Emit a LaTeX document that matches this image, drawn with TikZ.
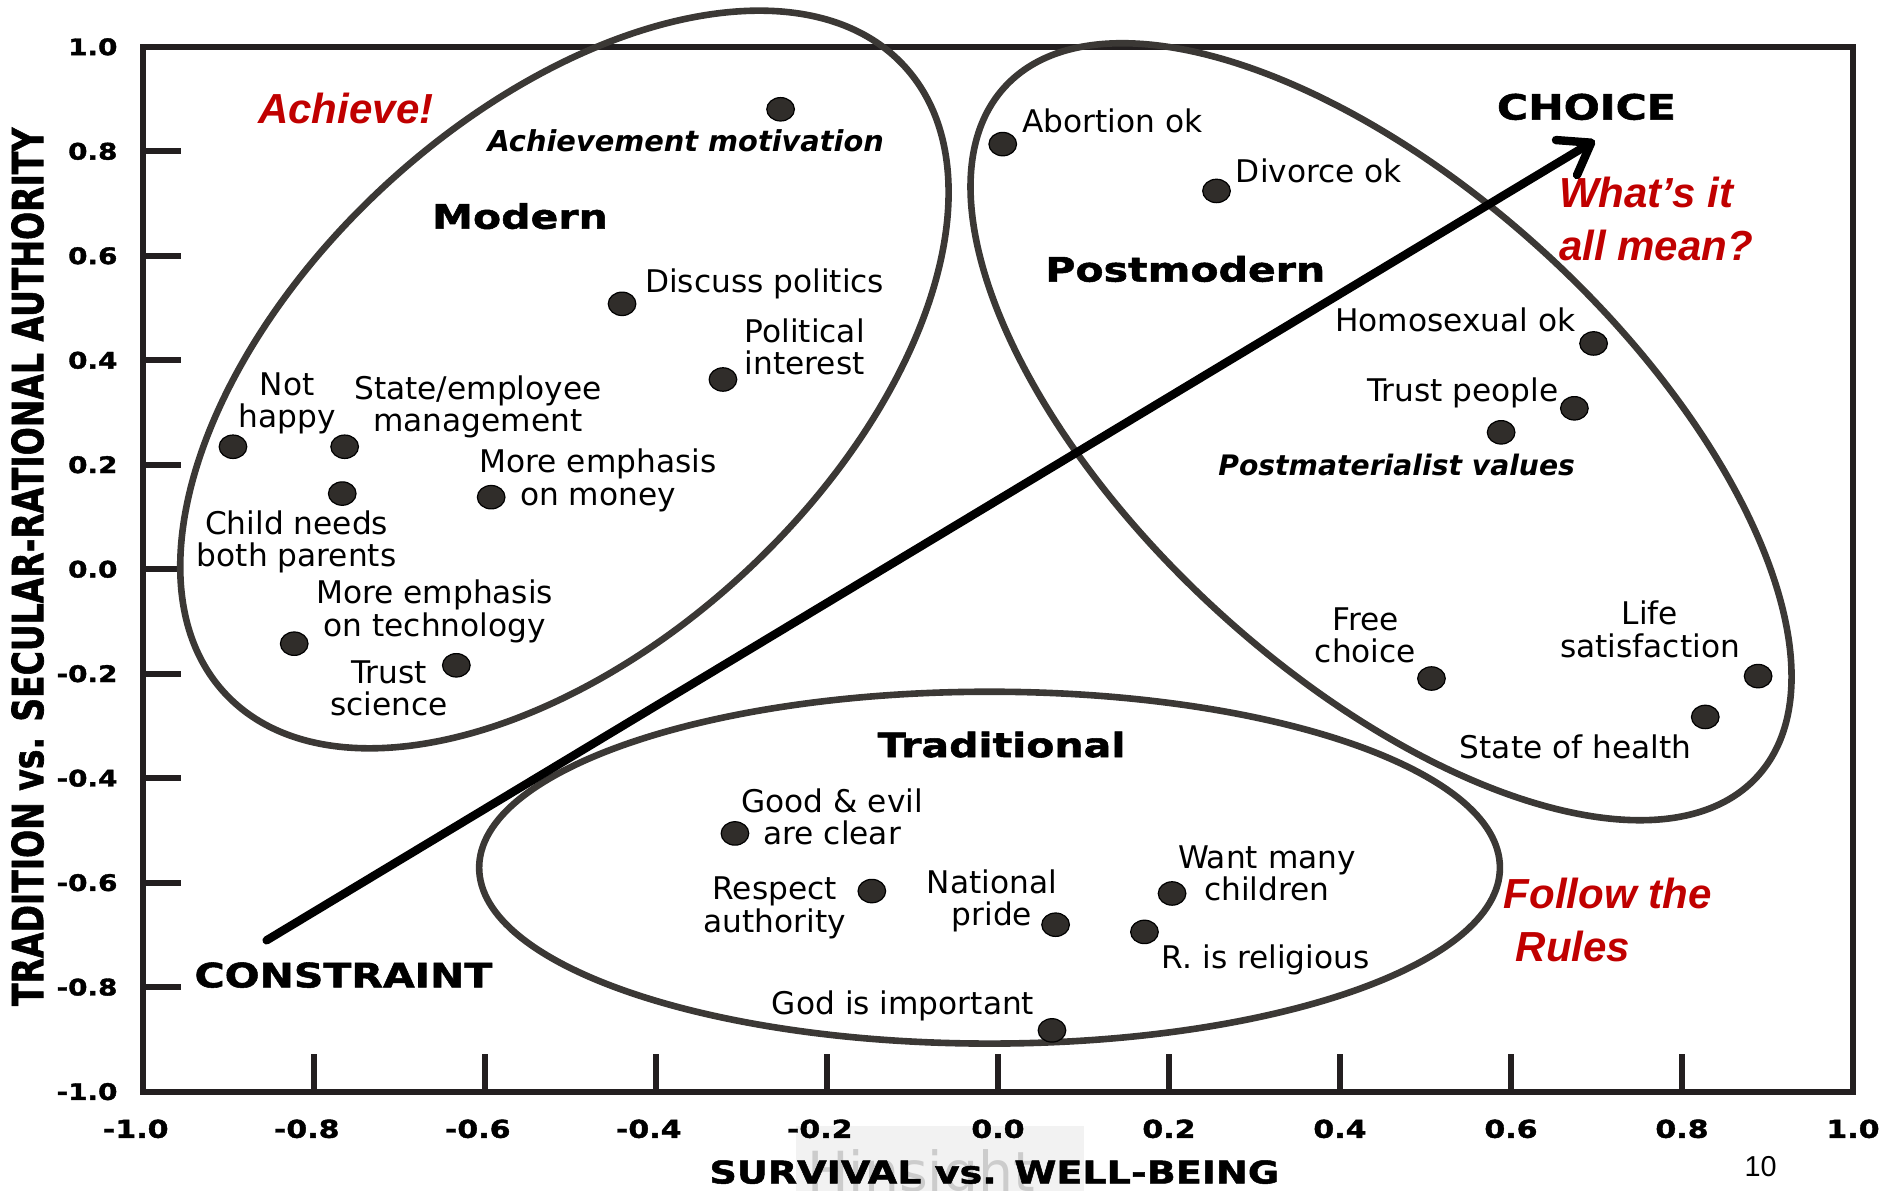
\documentclass[tikz,border=0pt]{standalone}
\usepackage{fontspec}
\setmainfont{DejaVu Sans}
\newfontfamily\heavyfont{DejaVu Sans}[FakeStretch=1.22, FakeBold=1.6]
\newfontfamily\heavyupright{DejaVu Sans}[FakeBold=1.6]
\newfontfamily\redfont{Liberation Sans}
\usetikzlibrary{arrows.meta,shapes.geometric}

\definecolor{ink}{HTML}{231F20}
\definecolor{loopgray}{HTML}{3B3835}
\definecolor{dotfill}{HTML}{302D2A}
\definecolor{accent}{HTML}{C00000}

\tikzset{
  frame/.style={draw=ink, line width=5pt, line join=miter},
  tickmark/.style={draw=ink, line width=5pt},
  cluster/.style={draw=loopgray, line width=5.5pt},
  datadot/.style={ellipse, minimum width=23pt, minimum height=19.5pt, inner sep=0pt,
    fill=dotfill, draw=black, line width=1pt},
  lbl/.style={font=\fontsize{26}{27}\selectfont, inner sep=0pt, align=center},
  heading/.style={font=\heavyfont\bfseries\fontsize{28}{30}\selectfont, inner sep=0pt},
  ticklbl/.style={font=\heavyfont\bfseries\fontsize{19}{20}\selectfont, inner sep=0pt},
  xticklbl/.style={font=\heavyfont\bfseries\fontsize{20.5}{22}\selectfont, inner sep=0pt},
  emphlbl/.style={font=\bfseries\itshape\fontsize{24}{26}\selectfont, inner sep=0pt},
  note/.style={font=\redfont\bfseries\itshape\fontsize{35}{44}\selectfont,
    text=accent, inner sep=0pt, align=left},
  trend/.style={draw=black, line width=7pt, line cap=round, line join=round,
    -{Straight Barb[length=24pt,width=34pt,line cap=round,round]}},
}

\begin{document}
\begin{tikzpicture}[x=1pt,y=-1pt]
\useasboundingbox (0,0) rectangle (1568,991);

% faint logo under the horizontal axis title
\begin{scope}
  \clip (0,0) rectangle (1568,991);
  \fill[black!5] (663,938) rectangle (903,995);
  \node[anchor=base west, inner sep=0pt, text=black!20,
        font=\fontsize{46}{46}\selectfont] (logo) at (672,992) {Hinsight};
\end{scope}

% plot frame and tick marks
\draw[frame] (119,39) rectangle (1543,909);
\foreach \v in {-0.8,-0.6,-0.4,-0.2,0,0.2,0.4,0.6,0.8}{
  \draw[tickmark] (119,{474-435*\v}) -- (151,{474-435*\v});
  \draw[tickmark] ({831+712*\v},909) -- ({831+712*\v},878);
}

% vertical axis numbers
\foreach \v/\t in {1/1.0,0.8/0.8,0.6/0.6,0.4/0.4,0.2/0.2,0/0.0,
                   -0.2/-0.2,-0.4/-0.4,-0.6/-0.6,-0.8/-0.8,-1/-1.0}{
  \node[ticklbl, anchor=east] at (98,{474-435*\v}) {\t};
}
% horizontal axis numbers
\foreach \v/\t/\s in {-1/-1.0/-6,-0.8/-0.8/-6,-0.6/-0.6/-6,-0.4/-0.4/-6,-0.2/-0.2/-6,
                      0/0.0/0,0.2/0.2/0,0.4/0.4/0,0.6/0.6/0,0.8/0.8/0,1/1.0/0}{
  \node[xticklbl] at ({831+712*\v+\s},940) {\t};
}

% axis titles
\node[inner sep=0pt, font=\heavyfont\bfseries\fontsize{26}{28}\selectfont] (xtitle)
  at (828,976) {SURVIVAL vs. WELL-BEING};
\node[inner sep=0pt, rotate=90, font=\heavyupright\bfseries\fontsize{27.5}{30}\selectfont] (ytitle)
  at (23,472) {\scalebox{1}[1.3]{TRADITION vs. SECULAR-RATIONAL AUTHORITY}};

% page number
\node[inner sep=0pt, font=\redfont\fontsize{24}{26}\selectfont] (page) at (1466,971) {10};

% value clusters
\draw[cluster, rotate around={42.7:(470,316)}] (470,316) ellipse [x radius=385, y radius=220];
\draw[cluster, rotate around={-42.5:(1150,359.5)}] (1150,359.5) ellipse [x radius=425, y radius=202];
\draw[cluster] (824,722.5) ellipse [x radius=425, y radius=146.5];

% trend from constraint to choice
\coordinate (fromconstraint) at (222,783);
\coordinate (tochoice) at (1328,117);
\draw[trend] (fromconstraint) -- (tochoice);

% data points
\node[datadot] (achmot)   at (650,91)  {};
\node[datadot] (discuss)  at (518,253) {};
\node[datadot] (polint)   at (602,316) {};
\node[datadot] (nothappy) at (194,372) {};
\node[datadot] (stateemp) at (287,372) {};
\node[datadot] (child)    at (285,411) {};
\node[datadot] (money)    at (409,414) {};
\node[datadot] (tech)     at (245,536) {};
\node[datadot] (science)  at (380,554) {};
\node[datadot] (abortion) at (835,120) {};
\node[datadot] (divorce)  at (1013,159) {};
\node[datadot] (homosex)  at (1327,286) {};
\node[datadot] (trustppl) at (1311,340) {};
\node[datadot] (postmat)  at (1250,360) {};
\node[datadot] (freech)   at (1192,565) {};
\node[datadot] (lifesat)  at (1464,563) {};
\node[datadot] (health)   at (1420,597) {};
\node[datadot] (goodevil) at (612,694) {};
\node[datadot] (respect)  at (726,742) {};
\node[datadot] (natpride) at (879,770) {};
\node[datadot] (children) at (976,744) {};
\node[datadot] (religious) at (953,776) {};
\node[datadot] (god)      at (876,858) {};

% cluster headings and poles
\node[heading] (modern) at (433,180) {Modern};
\node[heading] (postmodern) at (987,224) {Postmodern};
\node[heading] (traditional) at (834,620) {Traditional};
\node[heading, font=\heavyfont\bfseries\fontsize{29}{30}\selectfont] (choice) at (1321,89) {CHOICE};
\node[heading] (constraint) at (286,812) {CONSTRAINT};

% point labels
\node[emphlbl] (achmot-l) at (571,117) {Achievement motivation};
\node[lbl, anchor=west] (discuss-l) at (537,236) {Discuss politics};
\node[lbl] (polint-l) at (670,289) {Political\\interest};
\node[lbl] (nothappy-l) at (239,336) {Not\\happy};
\node[lbl] (stateemp-l) at (398,339) {State/employee\\management};
\node[lbl] (money-l) at (498,400) {More emphasis\\on money};
\node[lbl] (child-l) at (247,451) {Child needs\\both parents};
\node[lbl] (tech-l) at (362,509) {More emphasis\\on technology};
\node[lbl] (science-l) at (324,573) {Trust\\science};
\node[lbl, anchor=west] (abortion-l) at (851,101) {Abortion ok};
\node[lbl, anchor=west] (divorce-l) at (1029,142) {Divorce ok};
\node[lbl] (homosex-l) at (1212,266) {Homosexual ok};
\node[lbl] (trustppl-l) at (1218,327) {Trust people};
\node[emphlbl, font=\bfseries\itshape\fontsize{23.5}{25}\selectfont] (postmat-l) at (1163,387) {Postmaterialist values};
\node[lbl] (freech-l) at (1137,529) {Free\\choice};
\node[lbl] (lifesat-l) at (1374,524) {Life\\satisfaction};
\node[lbl] (health-l) at (1312,622) {State of health};
\node[lbl] (goodevil-l) at (693,680) {Good \& evil\\are clear};
\node[lbl] (respect-l) at (645,756) {Respect\\authority};
\node[lbl] (natpride-l) at (826,750) {National\\pride};
\node[lbl] (children-l) at (1055,727) {Want many\\children};
\node[lbl] (religious-l) at (1054,799) {R. is religious};
\node[lbl] (god-l) at (752,838) {God is important};

% red annotations
\node[note] (achieve) at (288,90) {Achieve!};
\node[note, anchor=north west] (meaning) at (1298,147) {What’s it\\all mean?};
\node[note, anchor=north west] (rules) at (1252,731) {Follow the\\\hspace*{10pt}Rules};
\end{tikzpicture}
\end{document}
